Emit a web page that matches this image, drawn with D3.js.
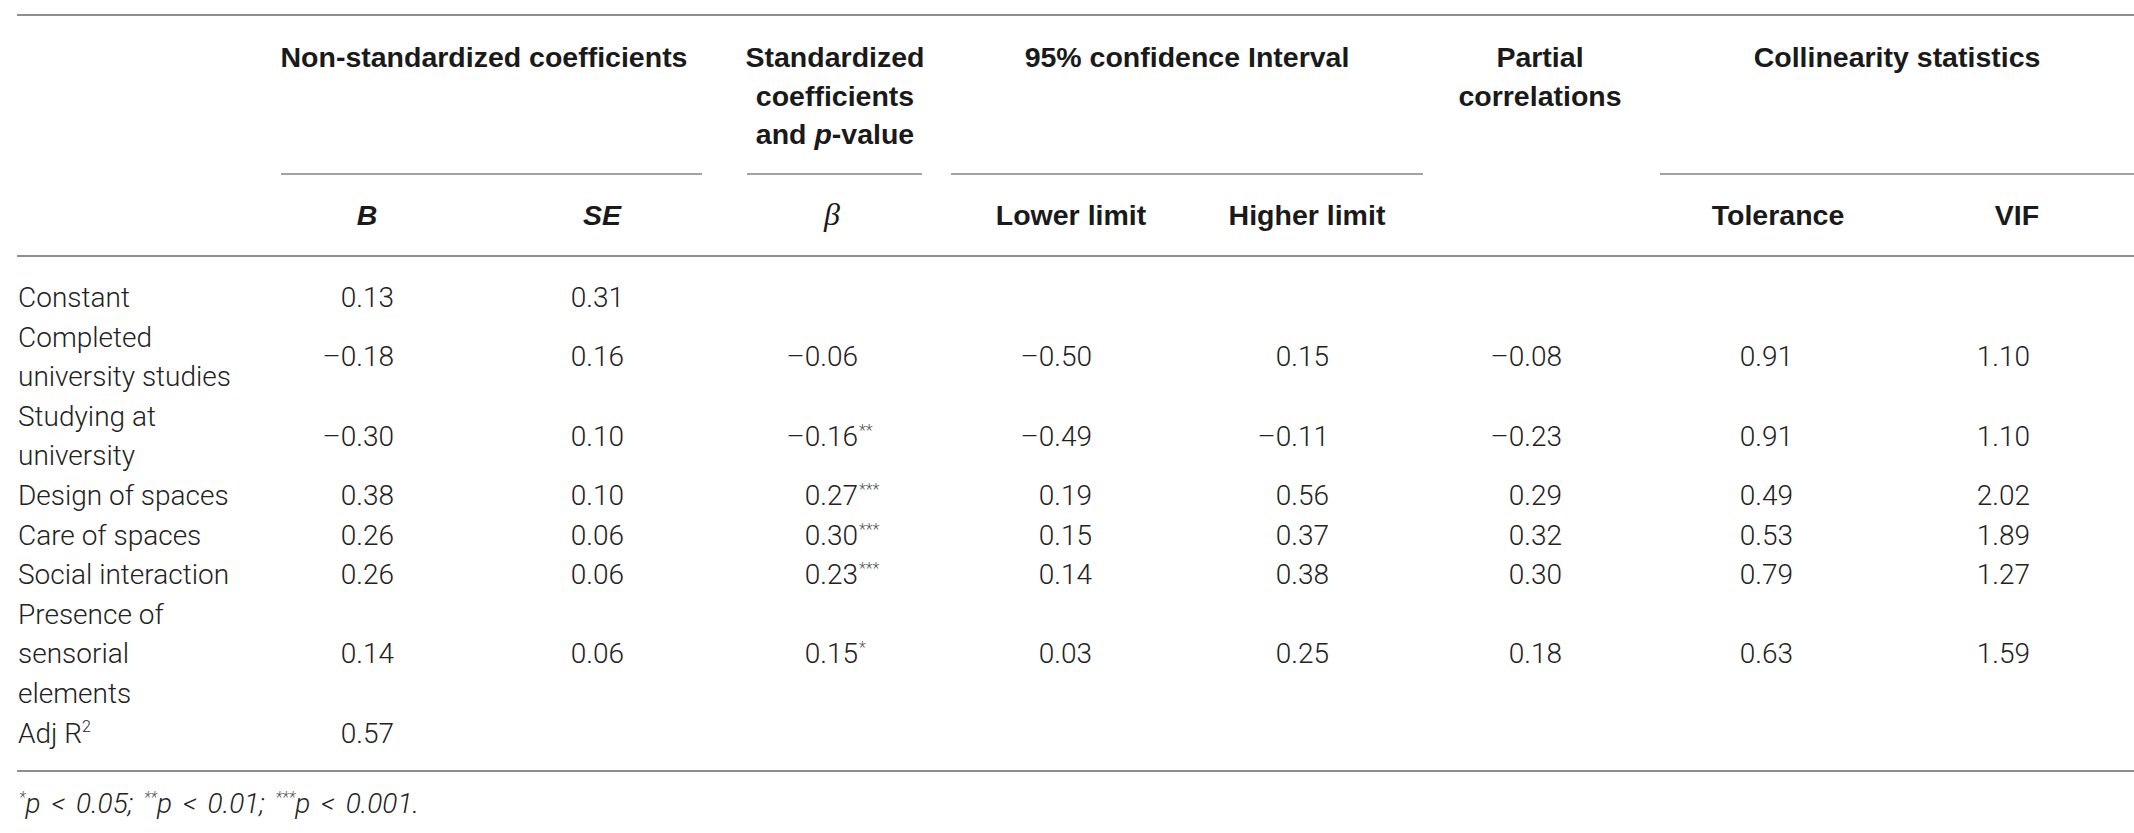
<!DOCTYPE html>
<html>
<head>
<meta charset="utf-8">
<script src="https://cdn.jsdelivr.net/npm/d3@7"></script>
<style>
  body { margin: 0; background: #fff; }
  svg { display: block; }
</style>
</head>
<body>
<div id="table_chart"></div>
<script>
// Row labels (one entry per row, each entry is its wrapped lines)
const rowLabels = [
    ["Constant"],
    ["Completed", "university studies"],
    ["Studying at", "university"],
    ["Design of spaces"],
    ["Care of spaces"],
    ["Social interaction"],
    ["Presence of", "sensorial", "elements"],
    ["Adj R"]
];
const rowLabelSup = [null, null, null, null, null, null, null, "2"];

// Column values, null = empty cell
const colB       = [0.13, -0.18, -0.30, 0.38, 0.26, 0.26, 0.14, 0.57];
const colSE      = [0.31, 0.16, 0.10, 0.10, 0.06, 0.06, 0.06, null];
const colBeta    = [null, -0.06, -0.16, 0.27, 0.30, 0.23, 0.15, null];
const betaSig    = ["", "", "**", "***", "***", "***", "*", ""];
const colLower   = [null, -0.50, -0.49, 0.19, 0.15, 0.14, 0.03, null];
const colHigher  = [null, 0.15, -0.11, 0.56, 0.37, 0.38, 0.25, null];
const colPartial = [null, -0.08, -0.23, 0.29, 0.32, 0.30, 0.18, null];
const colTol     = [null, 0.91, 0.91, 0.49, 0.53, 0.79, 0.63, null];
const colVIF     = [null, 1.10, 1.10, 2.02, 1.89, 1.27, 1.59, null];

// Header texts
const groupLabels = [
    ["Non-standardized coefficients"],
    ["Standardized", "coefficients", "and _p_-value"],
    ["95% confidence Interval"],
    ["Partial", "correlations"],
    ["Collinearity statistics"]
];
const subHeaders = ["B", "SE", "β", "Lower limit", "Higher limit", "", "Tolerance", "VIF"];
const footnote = [["*", "p < 0.05; "], ["**", "p < 0.01; "], ["***", "p < 0.001."]];

// Layout
var width = 2134,
    height = 833,
    lineColor = "#8f8f8f",
    bodyFont = "Roboto, 'Liberation Sans', Arial, sans-serif",
    headFont = "'Liberation Sans', Arial, Helvetica, sans-serif";

var colKeys = ["B", "SE", "beta", "lower", "higher", "partial", "tol", "vif"];
var colValues = [colB, colSE, colBeta, colLower, colHigher, colPartial, colTol, colVIF];

// x positions of the columns
var numRight = d3.scaleOrdinal().domain(colKeys)
    .range([394, 624, 858, 1092, 1329, 1562, 1793, 2030]);
var headCenter = d3.scaleOrdinal().domain(colKeys)
    .range([367, 602, 832, 1071, 1307, 1540, 1778, 2017]);
var groupCenter = d3.scaleOrdinal().domain(d3.range(5))
    .range([484, 835, 1187, 1540, 1897]);
var groupSpan = d3.scaleOrdinal().domain(d3.range(5))
    .range([[281, 702], [747, 922], [951, 1423], null, [1660, 2134]]);

// y: text line index -> baseline
var lineY = d3.scaleLinear().domain([0, 1]).range([307, 346.6]);
var headLineY = d3.scaleLinear().domain([0, 1]).range([67, 105.5]);

var fmt = function(v) {
    return v == null ? "" : d3.format(".2f")(v).replace("\u2212", "\u2013");
};

var svg = d3.select("#table_chart")
    .append("svg")
    .attr("width", width)
    .attr("height", height);

// Horizontal rules
function hline(x1, x2, y, color) {
    svg.append("line")
        .attr("x1", x1).attr("x2", x2)
        .attr("y1", y).attr("y2", y)
        .attr("stroke", color || lineColor)
        .attr("stroke-width", 2);
}
hline(17, width, 15);
hline(17, width, 256);
hline(17, width, 771);

// Group headers
groupLabels.forEach(function(lines, g) {
    lines.forEach(function(line, k) {
        let t = svg.append("text")
            .attr("x", groupCenter(g))
            .attr("y", headLineY(k))
            .attr("text-anchor", "middle")
            .style("font", "bold 28.5px " + headFont)
            .style("fill", "#1a1a1a");
        // "_p_" marks italic
        line.split("_").forEach(function(part, j) {
            if (!part) return;
            t.append("tspan")
                .style("font-style", j % 2 ? "italic" : "normal")
                .text(part);
        });
    });
    let span = groupSpan(g);
    if (span) hline(span[0], span[1], 174, "#a3a3a3");
});

// Sub headers
subHeaders.forEach(function(h, i) {
    if (!h) return;
    let t = svg.append("text")
        .attr("x", headCenter(colKeys[i]))
        .attr("y", 225)
        .attr("text-anchor", "middle")
        .style("fill", "#1a1a1a")
        .text(h);
    if (h === "β") {
        t.style("font", "italic 32px 'Liberation Serif', 'DejaVu Serif', serif");
    } else if (i < 2) {
        t.style("font", "italic bold 28.5px " + headFont);
    } else {
        t.style("font", "bold 28.5px " + headFont);
    }
});

// Body rows
var lineStart = 0;
rowLabels.forEach(function(lines, r) {
    let nLines = lines.length;
    // label lines
    lines.forEach(function(line, k) {
        let t = svg.append("text")
            .attr("x", 18)
            .attr("y", lineY(lineStart + k))
            .style("font", "300 28px " + bodyFont)
            .style("fill", "#222")
            .text(line);
        if (rowLabelSup[r]) {
            t.append("tspan")
                .attr("dy", -11)
                .style("font-size", "16px")
                .text(rowLabelSup[r]);
        }
    });

    // values, vertically centred in the row
    let yMid = lineY(lineStart + (nLines - 1) / 2);
    colValues.forEach(function(col, c) {
        let v = col[r];
        if (v == null) return;
        svg.append("text")
            .attr("x", numRight(colKeys[c]))
            .attr("y", yMid)
            .attr("text-anchor", "end")
            .style("font", "300 28px " + bodyFont)
            .style("fill", "#222")
            .text(fmt(v));
        if (colKeys[c] === "beta" && betaSig[r]) {
            svg.append("text")
                .attr("x", numRight(colKeys[c]) + 1)
                .attr("y", yMid - 10)
                .style("font", "300 16px " + bodyFont)
                .style("fill", "#555")
                .text(betaSig[r]);
        }
    });
    lineStart += nLines;
});

// Footnote
var foot = svg.append("text")
    .attr("x", 19)
    .attr("y", 813)
    .style("font", "italic 300 28px " + bodyFont)
    .style("word-spacing", "4px")
    .style("fill", "#222");
footnote.forEach(function(f) {
    foot.append("tspan")
        .attr("dy", -10)
        .style("font-size", "16px")
        .style("fill", "#555")
        .text(f[0]);
    foot.append("tspan")
        .attr("dy", 10)
        .text(f[1]);
});
</script>
</body>
</html>
